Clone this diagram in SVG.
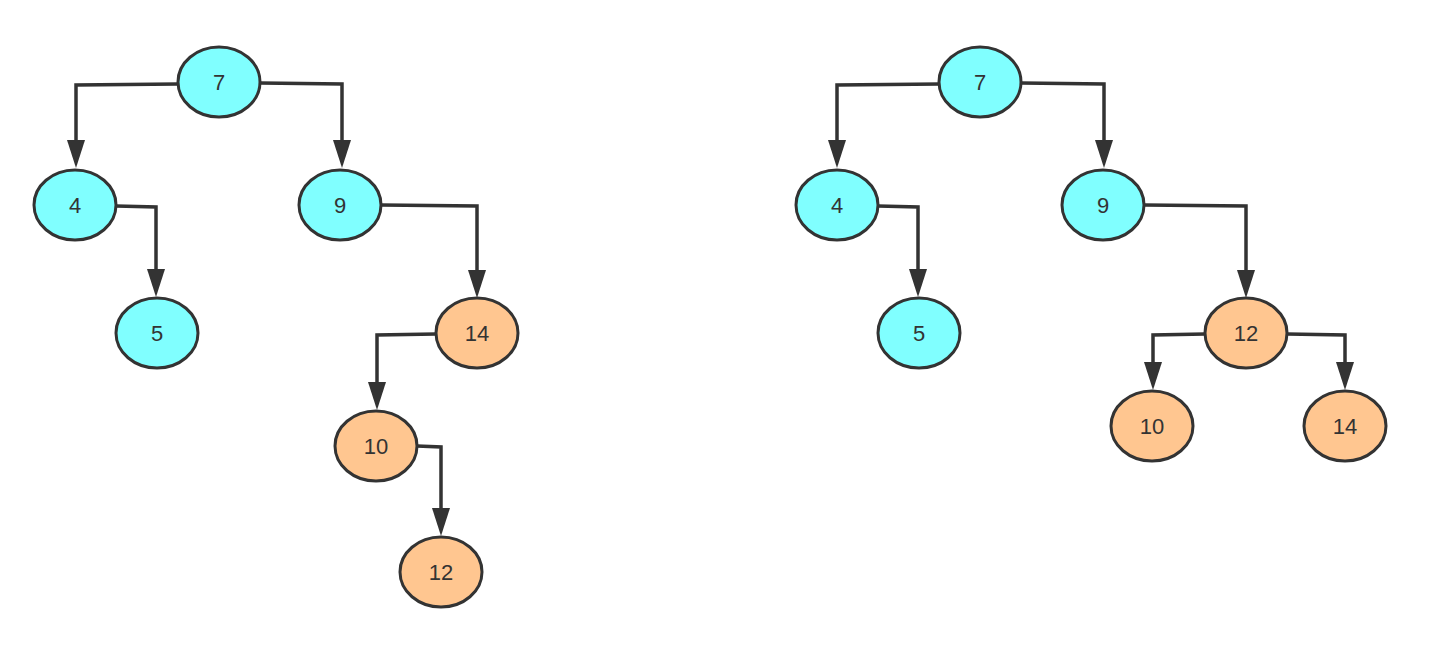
<svg xmlns="http://www.w3.org/2000/svg" width="1456" height="652" viewBox="0 0 1456 652">
<style>
.n ellipse{stroke:#333;stroke-width:3}
.b ellipse{fill:#80FFFF}
.o ellipse{fill:#FFC690}
.n text{font-family:"Liberation Sans",Arial,sans-serif;font-size:22px;fill:#333;text-anchor:middle;dominant-baseline:central}
#edges polyline{fill:none;stroke:#333;stroke-width:3.5;marker-end:url(#ah)}
</style>
<defs>
<marker id="ah" markerUnits="userSpaceOnUse" markerWidth="28" markerHeight="20" viewBox="0 0 28 20" refX="22" refY="10" orient="auto">
<path d="M0,1 L28,10 L0,19 z" fill="#333"/>
</marker>
</defs>
<rect width="1456" height="652" fill="#fff"/>
<g id="edges">
<polyline points="178,84 76,85 76,162"/>
<polyline points="260,83 342,84 342,162"/>
<polyline points="116,206 156,207 156,291"/>
<polyline points="381,205 477,206 477,292"/>
<polyline points="436,334 377,335 377,404"/>
<polyline points="417,446 441,447 441,530"/>
<polyline points="940,84 837,85 837,162"/>
<polyline points="1021,83 1104,84 1104,162"/>
<polyline points="878,206 918,207 918,291"/>
<polyline points="1144,205 1246,206 1246,292"/>
<polyline points="1205,334 1153,335 1153,384"/>
<polyline points="1287,334 1345,335 1345,384"/>
</g>
<g id="L7" class="n b"><ellipse cx="219" cy="82" rx="41" ry="35"/><text x="219" y="82">7</text></g>
<g id="L4" class="n b"><ellipse cx="75" cy="205" rx="41" ry="35"/><text x="75" y="205">4</text></g>
<g id="L9" class="n b"><ellipse cx="340" cy="205" rx="41" ry="35"/><text x="340" y="205">9</text></g>
<g id="L5" class="n b"><ellipse cx="157" cy="333" rx="41" ry="35"/><text x="157" y="333">5</text></g>
<g id="L14" class="n o"><ellipse cx="477" cy="333" rx="41" ry="35"/><text x="477" y="333">14</text></g>
<g id="L10" class="n o"><ellipse cx="376" cy="446" rx="41" ry="35"/><text x="376" y="446">10</text></g>
<g id="L12" class="n o"><ellipse cx="441" cy="572" rx="41" ry="35"/><text x="441" y="572">12</text></g>
<g id="R7" class="n b"><ellipse cx="980" cy="82" rx="41" ry="35"/><text x="980" y="82">7</text></g>
<g id="R4" class="n b"><ellipse cx="837" cy="205" rx="41" ry="35"/><text x="837" y="205">4</text></g>
<g id="R9" class="n b"><ellipse cx="1103" cy="205" rx="41" ry="35"/><text x="1103" y="205">9</text></g>
<g id="R5" class="n b"><ellipse cx="919" cy="333" rx="41" ry="35"/><text x="919" y="333">5</text></g>
<g id="R12" class="n o"><ellipse cx="1246" cy="333" rx="41" ry="35"/><text x="1246" y="333">12</text></g>
<g id="R10" class="n o"><ellipse cx="1152" cy="426" rx="41" ry="35"/><text x="1152" y="426">10</text></g>
<g id="R14" class="n o"><ellipse cx="1345" cy="426" rx="41" ry="35"/><text x="1345" y="426">14</text></g>
</svg>
